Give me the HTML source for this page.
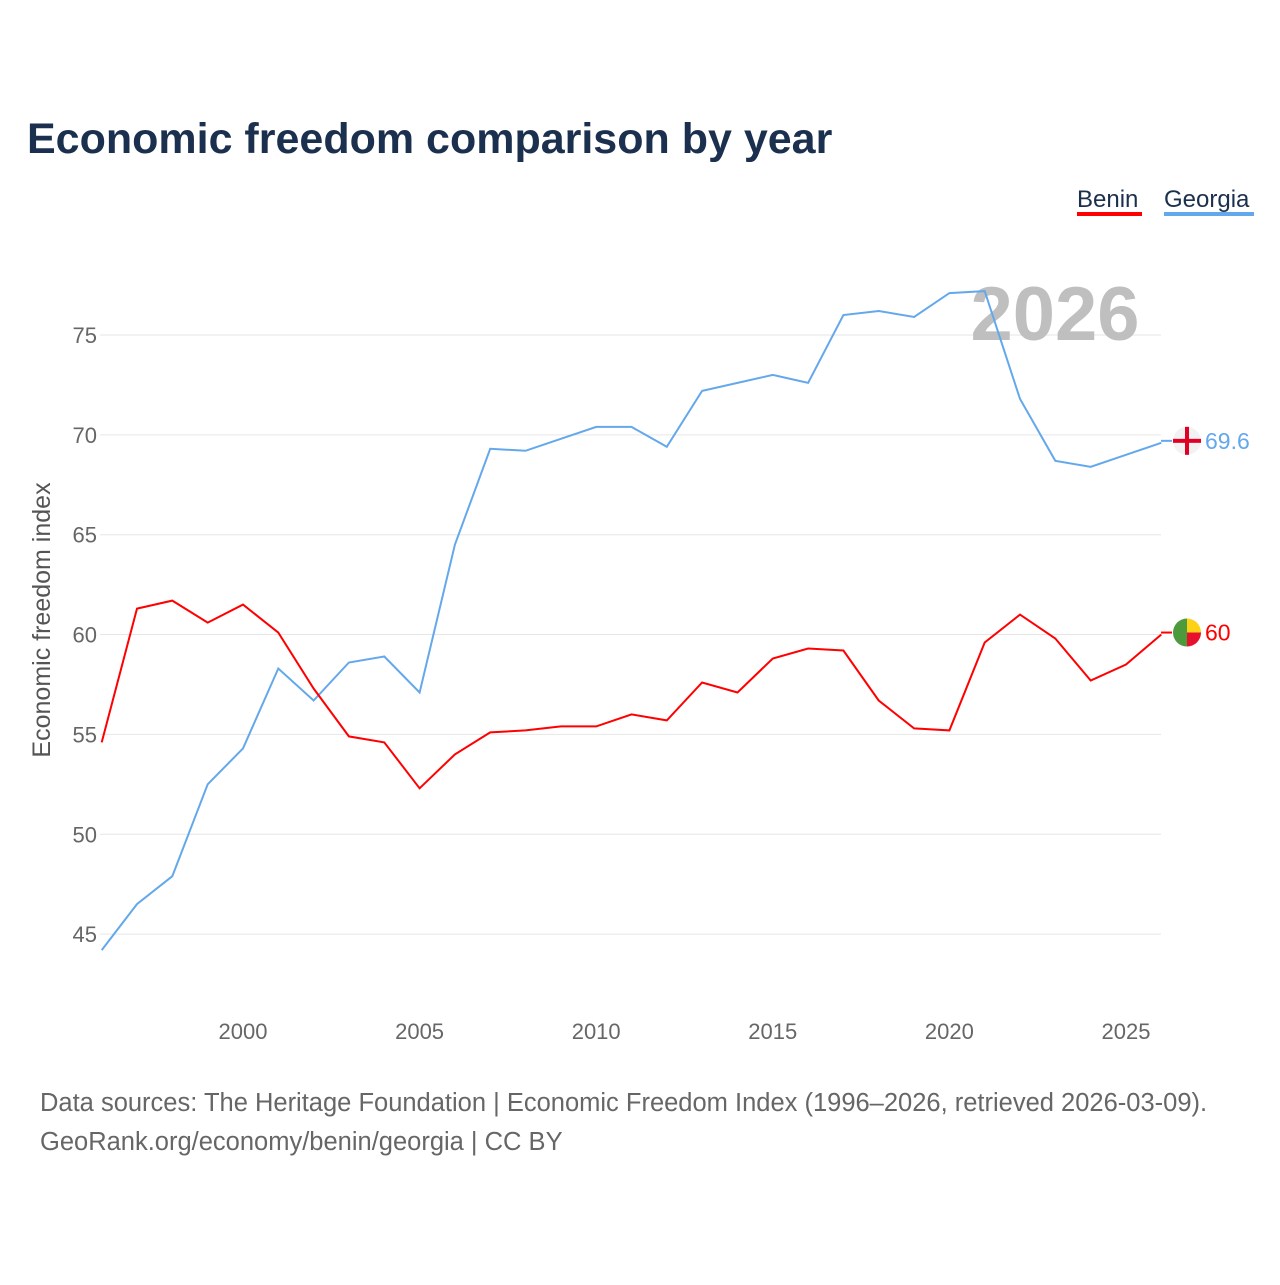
<!DOCTYPE html>
<html><head><meta charset="utf-8"><style>
body{margin:0;background:#fff;font-family:"Liberation Sans",sans-serif}
</style></head><body>
<svg width="1280" height="1280" xmlns="http://www.w3.org/2000/svg" id="chart">
<rect width="1280" height="1280" fill="#fff"/>
<text x="27" y="153" font-size="43" font-weight="bold" fill="#1b2f4e">Economic freedom comparison by year</text>
<g>
<text x="1077" y="207" font-size="24" fill="#1b2f4e">Benin</text>
<rect x="1077" y="212" width="65" height="4" fill="#ff0000"/>
<text x="1164" y="207" font-size="24" fill="#1b2f4e">Georgia</text>
<rect x="1164" y="212" width="90" height="4" fill="#64a8ec"/>
</g>
<g id="grid"></g>
<g id="xticks"></g>
<text x="1055" y="340" font-size="76" font-weight="bold" fill="#bfbfbf" text-anchor="middle">2026</text>
<g id="series"></g>
<text transform="translate(50,620) rotate(-90)" font-size="25" fill="#555" text-anchor="middle">Economic freedom index</text>
<text x="40" y="1111" font-size="25.5" fill="#666">Data sources: The Heritage Foundation | Economic Freedom Index (1996–2026, retrieved 2026-03-09).</text>
<text x="40" y="1150" font-size="25.5" fill="#666">GeoRank.org/economy/benin/georgia | CC BY</text>
</svg>
<script>
const years=[1996,1997,1998,1999,2000,2001,2002,2003,2004,2005,2006,2007,2008,2009,2010,2011,2012,2013,2014,2015,2016,2017,2018,2019,2020,2021,2022,2023,2024,2025,2026];
const benin=[54.6,61.3,61.7,60.6,61.5,60.1,57.3,54.9,54.6,52.3,54.0,55.1,55.2,55.4,55.4,56.0,55.7,57.6,57.1,58.8,59.3,59.2,56.7,55.3,55.2,59.6,61.0,59.8,57.7,58.5,60.0];
const georgia=[44.2,46.5,47.9,52.5,54.3,58.3,56.7,58.6,58.9,57.1,64.5,69.3,69.2,69.8,70.4,70.4,69.4,72.2,72.6,73.0,72.6,76.0,76.2,75.9,77.1,77.2,71.8,68.7,68.4,69.0,69.6];
const yTicks=[45,50,55,60,65,70,75];
const xTicks=[2000,2005,2010,2015,2020,2025];
const NS="http://www.w3.org/2000/svg";
const X=y=>101.7+(y-1996)*35.32;
const Y=v=>335+(75-v)*19.97;
function mk(t,a,p){const e=document.createElementNS(NS,t);for(const k in a)e.setAttribute(k,a[k]);p.appendChild(e);return e;}
const grid=document.getElementById('grid');
yTicks.forEach(v=>{
 const l=mk('line',{x1:100,x2:1161,y1:Y(v),y2:Y(v),stroke:'#e6e6e6','stroke-width':1},grid);
 
 
 const t=mk('text',{x:97,y:Y(v)+8,'font-size':22,fill:'#666','text-anchor':'end'},grid);
 t.textContent=v;
 
 
});
const xt=document.getElementById('xticks');
xTicks.forEach(v=>{
 const t=mk('text',{x:X(v),y:1039,'font-size':22,fill:'#666','text-anchor':'middle'},xt);
 t.textContent=v;
 
 
});
const s=document.getElementById('series');
function line(data,color,name,flag){
 const d=data.map((v,i)=>(i?'L':'M')+X(years[i]).toFixed(1)+','+Y(v).toFixed(1)).join('');
 const p=mk('path',{d:d,fill:'none',stroke:color,'stroke-width':2},s);
 
 
 const lv=data[data.length-1],ly=Y(lv)-2;
 const c=mk('g',{},s);
 
 
 mk('line',{x1:1161,x2:1172,y1:ly,y2:ly,stroke:color,'stroke-width':2},c);
 if(flag==='ge'){
  mk('circle',{cx:1187,cy:ly,r:14,fill:'#f2f2f2'},c);
  mk('rect',{x:1173,y:ly-2,width:28,height:4,fill:'#e00024'},c);
  mk('rect',{x:1185,y:ly-14,width:4,height:28,fill:'#e00024'},c);
 }else{
  mk('path',{d:`M1187,${ly-14}A14,14 0 0,0 1187,${ly+14}Z`,fill:'#4c9a3b'},c);
  mk('path',{d:`M1187,${ly}L1201,${ly}A14,14 0 0,0 1187,${ly-14}Z`,fill:'#fcd116'},c);
  mk('path',{d:`M1187,${ly}L1201,${ly}A14,14 0 0,1 1187,${ly+14}Z`,fill:'#e8112d'},c);
 }
 const t=mk('text',{x:1205,y:ly+8,'font-size':23,fill:color},s);
 t.textContent=lv;
 
 
}
line(georgia,'#64a8ec','georgia','ge');
line(benin,'#ff0000','benin','bj');
</script>
</body></html>
